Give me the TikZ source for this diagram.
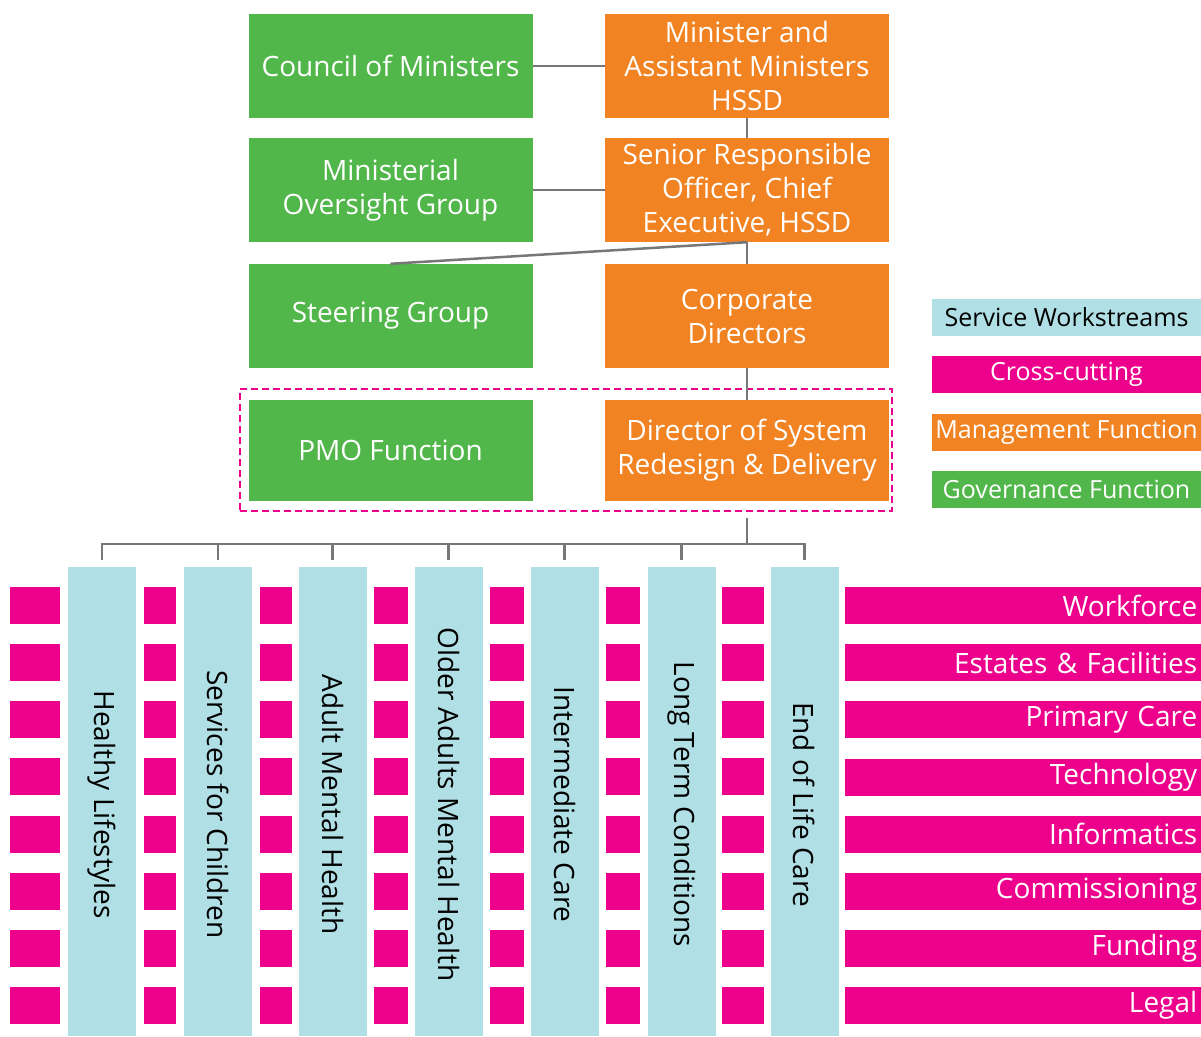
\documentclass[tikz,border=0pt]{standalone}
\usepackage{fontspec}
\setmainfont{Open Sans}
\definecolor{govgreen}{HTML}{52B74A}
\definecolor{mgtorange}{HTML}{F28322}
\definecolor{xpink}{HTML}{EC008C}
\definecolor{wsblue}{HTML}{B0DFE5}
\definecolor{linegray}{HTML}{777777}
\newcommand{\boxfont}{\fontsize{28}{34}\selectfont}
\newcommand{\smallfont}{\fontsize{25}{28}\selectfont}

\begin{document}
\begin{tikzpicture}[x=1pt,y=-1pt]

\tikzset{box/.style = {minimum width=284pt, minimum height=104pt, inner sep=0pt, align=center, text=white, font=\boxfont}}
\tikzset{gov/.style = {box, fill=govgreen}}
\tikzset{mgt/.style = {box, fill=mgtorange}}
\tikzset{wsbar/.style = {fill=wsblue, minimum width=68pt, minimum height=469pt, inner sep=0pt}}
\tikzset{xbar/.style = {fill=xpink, text=white, minimum height=37pt, inner ysep=0pt, inner xsep=4pt, text width=348pt, align=right, anchor=north west, font=\boxfont}}
\tikzset{key/.style = {minimum width=269pt, minimum height=37pt, inner sep=0pt, font=\smallfont}}
\tikzset{link/.style = {draw=linegray, line width=2.5pt}}

\useasboundingbox (0,0) rectangle (1201,1036);

%governance and management
\node[gov] (council) at (390.5,66) {Council of Ministers};
\node[mgt] (minister) at (747,66) {Minister and\\Assistant Ministers\\HSSD};
\node[gov] (oversight) at (390.5,190) {Ministerial\\Oversight Group};
\node[mgt] (sro) at (747,190) {Senior Responsible\\Officer, Chief\\Executive, HSSD};
\node[gov] (steering) at (390.5,316) {Steering Group};
\node[mgt] (directors) at (747,316) {Corporate\\Directors};
\node[gov, minimum height=101pt] (pmo) at (390.5,450.5) {PMO Function};
\node[mgt, minimum height=101pt] (redesign) at (747,450.5) {Director of System\\Redesign \& Delivery};
\node[draw=xpink, dash pattern=on 7pt off 4pt, line width=2pt, minimum width=652pt, minimum height=122pt, inner sep=0pt] (delivery) at (566,450) {};

%edges
\draw[link] (council) -- (minister);
\draw[link] (oversight) -- (sro);
\draw[link] (minister) -- (sro);
\draw[link] (sro.south) -- (steering.north);
\draw[link] (sro) -- (directors);
\draw[link] (directors) -- (redesign);
\coordinate (bus) at (747,544);
\draw[link] ([yshift=-6pt]delivery.south -| redesign) -- (bus);

%service workstreams
\foreach \i/\x/\txt in {1/102/Healthy Lifestyles, 2/218/Services for Children,
    3/332.5/Adult Mental Health, 4/448.5/Older Adults Mental Health,
    5/564.5/Intermediate Care, 6/681.5/Long Term Conditions, 7/804.5/End of Life Care}
{
  \node[wsbar] (ws\i) at (\x,801.5) {};
  \node[rotate=-90, font=\boxfont] (ws\i txt) at ([yshift=-3pt]ws\i) {\txt};
  \draw[link] (bus) -| ([yshift=7pt]ws\i.north);
}

%cross-cutting squares
\foreach \l/\r in {10/60, 144/176, 260/292, 374/408, 490/524, 606/640, 722/764}
  \foreach \k in {0,...,7}
    \fill[xpink] (\l,587+57.14*\k) rectangle (\r,624+57.14*\k);

%cross-cutting bars
\foreach \k/\txt in {0/Workforce, 1/Estates \& Facilities, 2/Primary Care, 3/Technology,
    4/Informatics, 5/Commissioning, 6/Funding, 7/Legal}
  \node[xbar] (xc\k) at (845,587+57.14*\k) {\txt};

%legend
\node[key, fill=wsblue] (keyws) at (1066.5,317.5) {Service Workstreams};
\node[key, fill=xpink, text=white] (keyxc) at (1066.5,374.5) {Cross-cutting};
\node[key, fill=mgtorange, text=white] (keymgt) at (1066.5,432.5) {Management Function};
\node[key, fill=govgreen, text=white] (keygov) at (1066.5,489.5) {Governance Function};

\end{tikzpicture}
\end{document}
